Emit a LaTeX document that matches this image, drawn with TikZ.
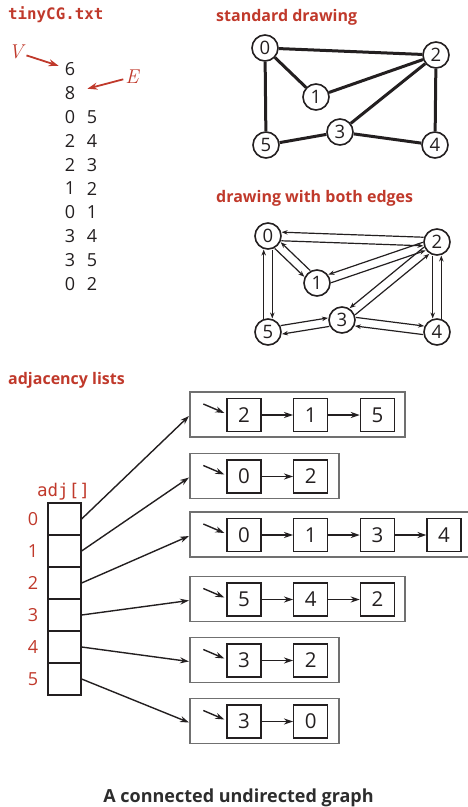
\documentclass[tikz,border=0pt]{standalone}
\usepackage{fontspec}
\setmainfont{Open Sans}
\newfontfamily\digf{Open Sans}
\newfontfamily\monof{DejaVu Sans Mono}
\newfontfamily\lmit{Latin Modern Roman}
\usetikzlibrary{arrows.meta,calc}
\definecolor{myred}{RGB}{192,57,43}
\definecolor{ink}{RGB}{35,31,32}
\definecolor{boxgray}{RGB}{112,112,112}
\definecolor{titlegray}{RGB}{45,45,45}
\newcommand\biedge[4]{\draw[dedge] ($(#1.center)!4.3pt!#3:(#2.center)$) -- ($(#2.center)!4.3pt!#4:(#1.center)$);}
\begin{document}
\begin{tikzpicture}[x=1pt,y=-1pt,
  lbl/.style={font=\fontsize{16}{18}\selectfont\bfseries, text=myred, anchor=base west, inner sep=0},
  fdig/.style={font=\digf\fontsize{18}{20}\selectfont, text=ink, inner sep=0},
  gnode/.style={circle, draw=ink, line width=1.6pt, fill=white, minimum size=26pt, inner sep=0, font=\digf\fontsize{18.5}{20}\selectfont, text=ink},
  sedge/.style={draw=ink, line width=3pt},
  dedge/.style={draw=ink, line width=1.2pt, shorten <=13.5pt, shorten >=13.5pt, -{Stealth[length=6pt,width=4.5pt]}},
  redarr/.style={draw=myred, line width=1.8pt, -{Stealth[length=10pt,width=7pt]}},
  cell/.style={draw=ink, line width=1.2pt, minimum width=33pt, minimum height=32pt, inner sep=0},
  idx/.style={font=\digf\fontsize{18}{20}\selectfont, text=myred, inner sep=0},
  lbox/.style={draw=boxgray, line width=1.5pt, minimum height=45pt, inner sep=0, anchor=west},
  ibox/.style={draw=ink, line width=1.3pt, minimum width=34pt, minimum height=33pt, inner sep=0, font=\digf\fontsize{20.5}{22}\selectfont, text=ink},
  arr/.style={draw=ink, line width=1.4pt, -{Stealth[length=9pt,width=6pt]}}]
\useasboundingbox (0,0) rectangle (468,807);
\clip (0,0) rectangle (468,807);

% ---------- tinyCG.txt ----------
\node[lbl, font=\monof\bfseries\fontsize{15.8}{18}\selectfont] (fname) at (8,19.5) {tinyCG.txt};
\node[fdig] (six) at (70,69.5) {6};
\node[fdig] (eight) at (70,93.3) {8};
\foreach \a/\b [count=\i from 2] in {0/5,2/4,2/3,1/2,0/1,3/4,3/5,0/2}{
  \node[fdig] (ra\i) at (70,69.5+23.8*\i) {\a};
  \node[fdig] (rb\i) at (92,69.5+23.8*\i) {\b};
}
\node[text=myred, inner sep=0, font=\lmit\itshape\fontsize{20}{22}\selectfont] (V) at (16,52) {V};
\node[text=myred, inner sep=0, font=\lmit\itshape\fontsize{20}{22}\selectfont] (E) at (132,77) {E};
\draw[redarr, shorten <=11pt, shorten >=12pt] (V.center) -- (six.center);
\draw[redarr, shorten <=9pt, shorten >=18pt] (E.center) -- (eight.center);

% ---------- standard drawing ----------
\node[lbl] (t1) at (216,21.5) {standard drawing};
\node[gnode] (s0) at (265,48) {0};
\node[gnode] (s1) at (316,97) {1};
\node[gnode] (s2) at (436,55) {2};
\node[gnode] (s3) at (340,132) {3};
\node[gnode] (s4) at (435,145) {4};
\node[gnode] (s5) at (266,145) {5};
\foreach \u/\v in {s0/s2,s0/s1,s0/s5,s1/s2,s2/s3,s2/s4,s3/s5,s3/s4}
  \draw[sedge] (\u) -- (\v);

% ---------- drawing with both edges ----------
\node[lbl] (t2) at (216,202) {drawing with both edges};
\node[gnode] (b0) at (268,236) {0};
\node[gnode] (b1) at (317,283) {1};
\node[gnode] (b2) at (437,242) {2};
\node[gnode] (b3) at (342,320) {3};
\node[gnode] (b4) at (437,332) {4};
\node[gnode] (b5) at (268,332) {5};
\biedge{b0}{b2}{-90}{90}
\biedge{b2}{b0}{-90}{90}
\biedge{b0}{b1}{-90}{90}
\biedge{b1}{b0}{-90}{90}
\biedge{b1}{b2}{-90}{90}
\biedge{b2}{b1}{-90}{90}
\biedge{b2}{b3}{-90}{90}
\biedge{b3}{b2}{-90}{90}
\biedge{b2}{b4}{-90}{90}
\biedge{b4}{b2}{-90}{90}
\biedge{b0}{b5}{90}{-90}
\biedge{b5}{b0}{90}{-90}
\biedge{b5}{b3}{90}{-90}
\biedge{b3}{b5}{90}{-90}
\biedge{b3}{b4}{90}{-90}
\biedge{b4}{b3}{90}{-90}

% ---------- adjacency lists ----------
\node[lbl] (t3) at (8,384) {adjacency lists};
\node[anchor=base, inner sep=0, text=myred, font=\monof\fontsize{17.5}{20}\selectfont] (adj) at (63.5,496) {adj[]};
\foreach \r in {0,...,5}{
  \node[cell] (c\r) at (64.5,519+32*\r) {};
  \node[idx] (i\r) at (33,519+32*\r) {\r};
}
\foreach \r/\y/\w/\items in {0/414.5/215/{2,1,5},1/476/149/{0,2},2/534.5/290/{0,1,3,4},3/599/215/{5,4,2},4/660/149/{3,2},5/721/149/{3,0}}{
  \node[lbox, minimum width=\w pt] (L\r) at (189,\y) {};
  \foreach \v [count=\k] in \items {
    \node[ibox] (n\r-\k) at (244+66.7*\k-66.7,\y+0.5) {\v};
    \ifnum\k>1
      \pgfmathtruncatemacro\prev{\k-1}
      \draw[arr] (n\r-\prev) -- (n\r-\k);
    \fi
  }
  \draw[arr] ([shift={(-23,-11)}]n\r-1.west) -- ([shift={(-2,-2)}]n\r-1.west);
  \draw[arr] (c\r.east) -- ([yshift=-1.5pt]L\r.west);
}

% ---------- title ----------
\node[anchor=base, inner sep=0, text=titlegray, font=\fontsize{18}{22}\selectfont\bfseries] (title) at (238.5,802) {A connected undirected graph};
\end{tikzpicture}
\end{document}
